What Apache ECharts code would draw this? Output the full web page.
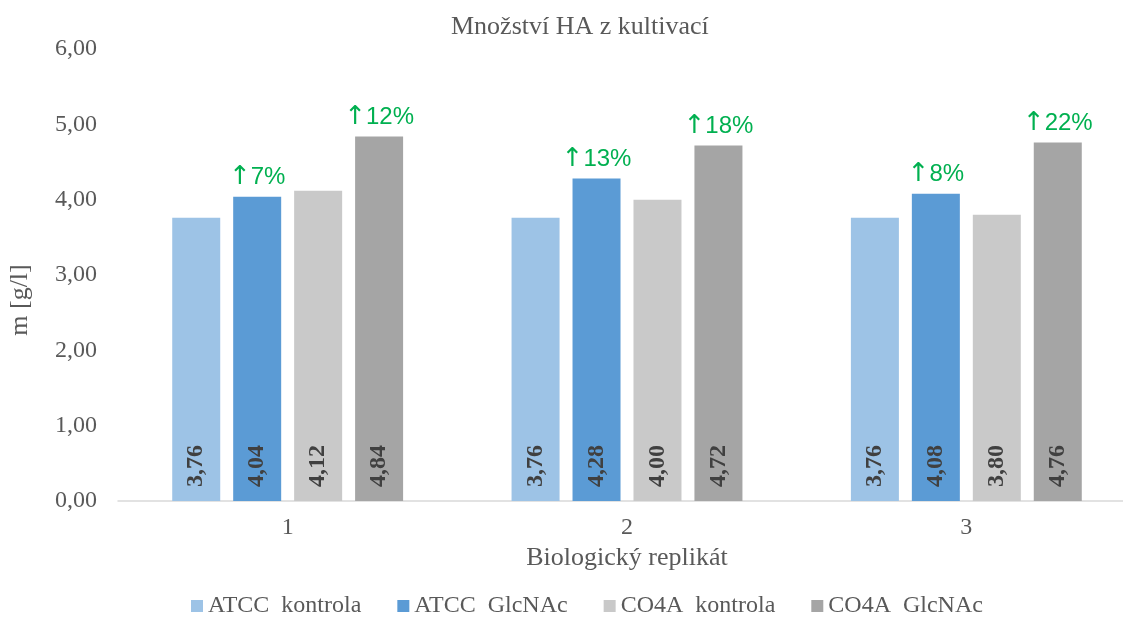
<!DOCTYPE html>
<html>
<head>
<meta charset="utf-8">
<script src="https://cdn.jsdelivr.net/npm/echarts@6/dist/echarts.min.js"></script>
<style>
  html, body { margin: 0; padding: 0; background: #fff; }
  #chart { width: 1123px; height: 625px; }
</style>
</head>
<body>
<div id="chart"></div>
<script>
// Replicates (x categories)
const categories = ['1', '2', '3'];

// HA amount per cultivation, g/l
const atccKontrola = [3.76, 3.76, 3.76];
const atccGlcNAc   = [4.04, 4.28, 4.08];
const co4aKontrola = [4.12, 4.00, 3.80];
const co4aGlcNAc   = [4.84, 4.72, 4.76];

// Increase annotations shown above the GlcNAc bars
const atccIncrease = ['7%', '13%', '8%'];
const co4aIncrease = ['12%', '18%', '22%'];

const seriesNames = ['ATCC  kontrola', 'ATCC  GlcNAc', 'CO4A  kontrola', 'CO4A  GlcNAc'];
const colors = ['#9dc3e6', '#5b9bd5', '#c9c9c9', '#a5a5a5'];

const serif = '"Liberation Serif", "Times New Roman", serif';
const sans = '"Liberation Sans", Arial, sans-serif';
const fmt = v => v.toFixed(2).replace('.', ',');

function valueLabel() {
  return {
    show: true,
    position: 'insideBottom',
    rotate: 90,
    align: 'left',
    verticalAlign: 'middle',
    distance: 14,
    fontFamily: serif,
    fontWeight: 'bold',
    fontSize: 24,
    color: '#404040',
    formatter: p => fmt(p.value)
  };
}

function increaseMarks(values, texts) {
  return {
    symbol: 'rect',
    symbolSize: 1,
    itemStyle: { color: 'rgba(0,0,0,0)' },
    label: {
      show: true,
      position: 'top',
      distance: 6,
      color: '#00b050',
      formatter: p => '{a|↑}{b|' + p.name + '}',
      rich: {
        a: { fontFamily: '"DejaVu Sans", sans-serif', fontSize: 26, color: '#00b050' },
        b: { fontFamily: sans, fontSize: 24, color: '#00b050' }
      }
    },
    data: values.map((v, i) => ({ name: texts[i], coord: [i, v] }))
  };
}

const dataSets = [atccKontrola, atccGlcNAc, co4aKontrola, co4aGlcNAc];

const series = dataSets.map((d, i) => {
  const s = {
    name: seriesNames[i],
    type: 'bar',
    data: d,
    barWidth: 48,
    barGap: '27%',
    itemStyle: { color: colors[i] },
    label: valueLabel(),
    emphasis: { disabled: true }
  };
  if (i === 1) s.markPoint = increaseMarks(d, atccIncrease);
  if (i === 3) s.markPoint = increaseMarks(d, co4aIncrease);
  return s;
});

const chart = echarts.init(document.getElementById('chart'), null, { renderer: 'canvas' });
chart.setOption({
  animation: false,
  backgroundColor: '#ffffff',
  title: {
    text: 'Množství HA z kultivací',
    left: 446,
    top: 9,
    textStyle: { fontFamily: serif, fontWeight: 'normal', fontSize: 26, color: '#595959' }
  },
  legend: {
    data: seriesNames,
    left: 186,
    bottom: 2,
    itemWidth: 12,
    itemHeight: 12,
    itemGap: 36,
    icon: 'rect',
    textStyle: { fontFamily: serif, fontSize: 24, color: '#595959' }
  },
  // plot area runs slightly past the right edge of the canvas
  grid: { left: 118, right: -13, top: 49, bottom: 124, containLabel: false, outerBoundsMode: 'none' },
  xAxis: {
    type: 'category',
    data: categories,
    name: 'Biologický replikát',
    nameLocation: 'middle',
    nameGap: 32,
    nameTextStyle: { fontFamily: serif, fontSize: 26, color: '#595959' },
    axisLine: { lineStyle: { color: '#d9d9d9', width: 1.5 } },
    axisTick: { show: false },
    axisLabel: { margin: 15, fontFamily: serif, fontSize: 24, color: '#595959' }
  },
  yAxis: {
    type: 'value',
    min: 0,
    max: 6,
    interval: 1,
    name: 'm [g/l]',
    nameLocation: 'middle',
    nameGap: 85,
    nameTextStyle: { fontFamily: serif, fontSize: 26, color: '#595959', padding: [0, 50, 0, 0] },
    axisLine: { show: false },
    axisTick: { show: false },
    splitLine: { show: false },
    axisLabel: { margin: 21, fontFamily: serif, fontSize: 24, color: '#595959', formatter: v => fmt(v) }
  },
  series: series
});
</script>
</body>
</html>
